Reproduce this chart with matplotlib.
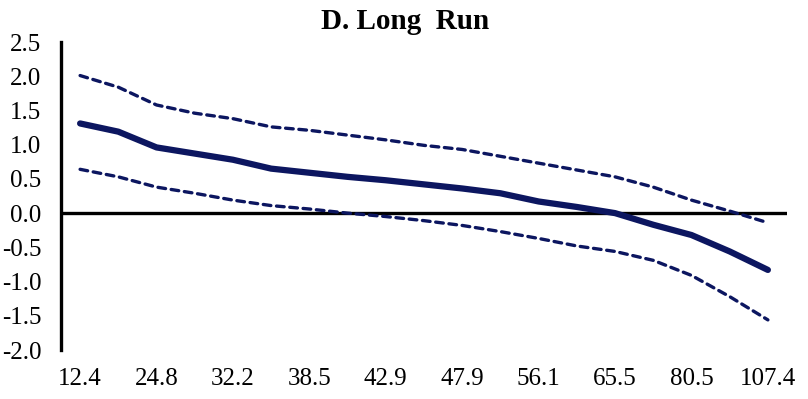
import matplotlib
matplotlib.use("Agg")
import matplotlib.pyplot as plt

plt.rcParams['font.family'] = ['Liberation Serif', 'DejaVu Serif']

# x categories (only every second one is labelled on the axis)
x_labels = ["12.4", "24.8", "32.2", "38.5", "42.9", "47.9", "56.1", "65.5", "80.5", "107.4"]

estimate = [1.31, 1.19, 0.96, 0.87, 0.78, 0.65, 0.59, 0.53, 0.48, 0.42,
            0.36, 0.29, 0.17, 0.09, 0.00, -0.17, -0.32, -0.56, -0.83]
upper = [2.01, 1.84, 1.58, 1.46, 1.38, 1.26, 1.21, 1.14, 1.07, 0.99,
         0.93, 0.83, 0.73, 0.63, 0.53, 0.38, 0.19, 0.03, -0.14]
lower = [0.64, 0.53, 0.38, 0.29, 0.19, 0.11, 0.06, 0.00, -0.05, -0.11,
         -0.18, -0.27, -0.37, -0.48, -0.56, -0.69, -0.91, -1.22, -1.56]

navy = '#0c1660'
x = list(range(len(estimate)))

fig = plt.figure(figsize=(8.08, 3.99), dpi=100)
ax = fig.add_axes([0.0755, 0.1228, 0.974 - 0.0755, 0.8947 - 0.1228])

ax.plot(x, upper, color=navy, lw=2.4, linestyle=(0, (2.3, 1.7)),
        dash_capstyle='round', solid_capstyle='round')
ax.plot(x, lower, color=navy, lw=2.4, linestyle=(0, (2.3, 1.7)),
        dash_capstyle='round', solid_capstyle='round')
ax.plot(x, estimate, color=navy, lw=4.5, solid_capstyle='round',
        solid_joinstyle='round')

ax.axhline(0, color='black', lw=2.4, zorder=0.5)

ax.set_xlim(-0.5, len(estimate) - 0.5)
ax.set_ylim(-2.0, 2.5)
ax.set_yticks([-2.0, -1.5, -1.0, -0.5, 0.0, 0.5, 1.0, 1.5, 2.0, 2.5])
ax.set_yticklabels([f"{v:.1f}" for v in ax.get_yticks()])
ax.set_xticks(x[::2])
ax.set_xticklabels(x_labels)
ax.tick_params(axis='both', length=0, labelsize=18)
ax.tick_params(axis='x', pad=13)
ax.tick_params(axis='y', pad=14)

for s in ['top', 'right', 'bottom']:
    ax.spines[s].set_visible(False)
ax.spines['left'].set_linewidth(2.4)

fig.text(0.5015, 0.945, "D. Long  Run", fontsize=21, fontweight='bold',
         ha='center', va='center')

fig.savefig("out.png", dpi=100)
